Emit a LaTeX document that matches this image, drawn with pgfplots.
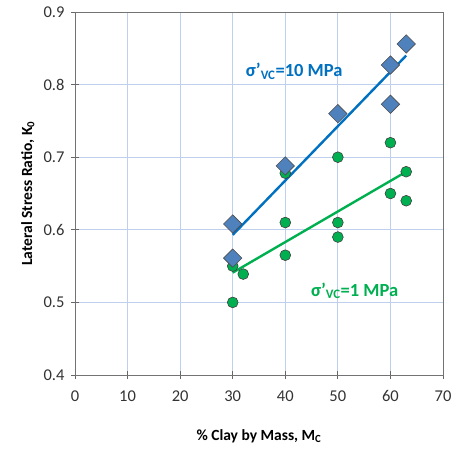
\documentclass[border=0pt]{standalone}
\usepackage{fontspec}
\setmainfont{Carlito}
\usepackage{pgfplots}
\pgfplotsset{compat=1.18}

\definecolor{dblue}{HTML}{4F81BD}
\definecolor{lblue}{HTML}{0070C0}
\definecolor{lgreen}{HTML}{00B050}
\definecolor{gridc}{HTML}{BFD0EE}

\begin{document}
\begin{tikzpicture}[x=1pt,y=1pt]
\path[use as bounding box] (-75,-75) rectangle (387,375);
\begin{axis}[
  scale only axis,
  width=368pt, height=363pt,
  xmin=0, xmax=70, ymin=0.4, ymax=0.9,
  xtick={0,10,...,70},
  ytick={0.4,0.5,...,0.9},
  yticklabel style={/pgf/number format/fixed,/pgf/number format/precision=1,/pgf/number format/fixed zerofill},
  /pgf/number format/assume math mode=true,
  tick label style={font=\fontsize{16.5}{18}\selectfont, text=black!80},
  xticklabel style={yshift=-8pt},
  yticklabel style={xshift=-3pt},
  tick align=center,
  major tick length=8pt,
  tick style={black!60, line width=0.8pt},
  xtick pos=bottom, ytick pos=left,
  grid=major,
  major grid style={gridc, line width=0.8pt},
  axis line style={black!55, line width=0.8pt},
  xlabel={\textbf{\% Clay by Mass, M\textsubscript{C}}},
  ylabel={\textbf{Lateral Stress Ratio, K\textsubscript{0}}},
  label style={font=\fontsize{15.5}{17}\selectfont},
  xlabel style={at={(axis description cs:0.5,-0.168)}, anchor=center},
  ylabel style={at={(axis description cs:-0.128,0.5)}, anchor=center},
]
% sigma'vc = 1 MPa points
\addplot[only marks, mark=*, mark size=5.4pt, mark options={fill=lgreen, draw=black!75, line width=0.6pt}]
coordinates {(30,0.550) (30,0.500) (32,0.539) (40,0.678) (40,0.610) (40,0.565)
 (50,0.700) (50,0.610) (50,0.590) (60,0.720) (60,0.650) (63,0.680) (63,0.640)};
% sigma'vc = 10 MPa points
\addplot[only marks, mark=square*, mark size=6.5pt, mark options={rotate=45, fill=dblue, draw=black!70, line width=0.6pt}]
coordinates {(30,0.608) (30,0.561) (40,0.688) (50,0.760) (60,0.827) (60,0.773) (63,0.856)};
% trend lines
\addplot[lblue, line width=2.4pt] coordinates {(30,0.593) (63,0.840)};
\addplot[lgreen, line width=2.4pt] coordinates {(30,0.541) (63,0.680)};
\node[text=lblue, font=\fontsize{18.5}{20}\selectfont\bfseries] at (axis cs:41.7,0.818) {σ'\textsubscript{VC}=10 MPa};
\node[text=lgreen, font=\fontsize{18.5}{20}\selectfont\bfseries] at (axis cs:53.2,0.516) {σ'\textsubscript{VC}=1 MPa};
\end{axis}
\end{tikzpicture}
\end{document}
